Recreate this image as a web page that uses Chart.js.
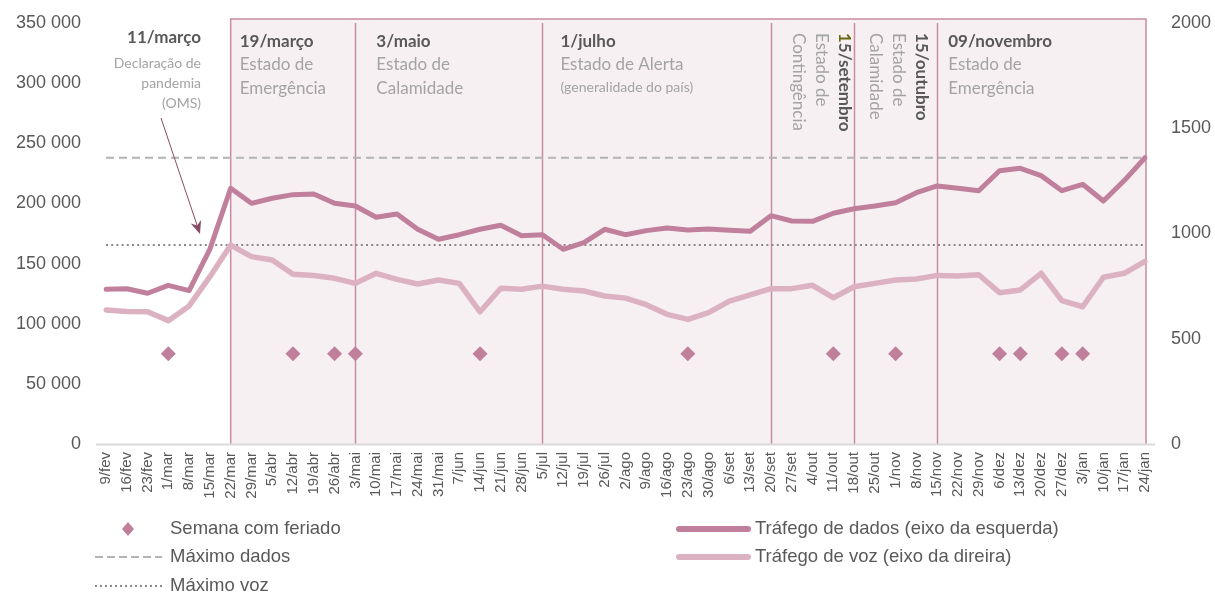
<!DOCTYPE html>
<html><head><meta charset="utf-8">
<script src="https://cdn.jsdelivr.net/npm/chart.js@4"></script>
<style>html,body{margin:0;padding:0;background:#fff}#wrap{width:1215px;height:594px}</style>
</head><body><div id="wrap"><canvas id="c" width="1215" height="594"></canvas></div>
<script>
const semanas = ['9/fev','16/fev','23/fev','1/mar','8/mar','15/mar','22/mar','29/mar','5/abr','12/abr','19/abr','26/abr','3/mai','10/mai','17/mai','24/mai','31/mai','7/jun','14/jun','21/jun','28/jun','5/jul','12/jul','19/jul','26/jul','2/ago','9/ago','16/ago','23/ago','30/ago','6/set','13/set','20/set','27/set','4/out','11/out','18/out','25/out','1/nov','8/nov','15/nov','22/nov','29/nov','6/dez','13/dez','20/dez','27/dez','3/jan','10/jan','17/jan','24/jan'];
const trafegoDados = [128600,129100,125300,131900,127500,162000,212600,200100,204300,207300,207800,200100,197900,188500,191200,178500,170200,174000,178500,181800,173200,174000,161900,167400,178500,174000,177400,179600,177900,178700,177700,176800,189800,185400,185100,191800,195600,197900,200600,208900,214500,212600,210600,227200,229200,223100,210600,215900,202000,219000,238000];
const trafegoVoz = [637,629,628,586,656,795,945,890,874,806,800,787,763,811,782,760,779,763,628,740,735,750,735,727,703,693,662,616,592,624,679,708,738,738,754,695,747,763,779,784,801,798,804,719,732,811,681,652,792,811,868];
const semanasFeriado = ['1/mar','12/abr','26/abr','3/mai','14/jun','23/ago','11/out','1/nov','6/dez','13/dez','27/dez','3/jan'];
const nivelFeriado = 75000;
const maximoDados = 238000;
const maximoVoz = 945;
const inicioFases = ['22/mar','3/mai','5/jul','20/set','18/out','15/nov'];
const fimFases = '24/jan';
const titulosFases = ['19/março','3/maio','1/julho','15/setembro','15/outubro','09/novembro'];
const textosFases = [['Estado de','Emergência'],['Estado de','Calamidade'],['Estado de Alerta'],['Estado de','Contingência'],['Estado de','Calamidade'],['Estado de','Emergência']];
const notaFase3 = '(generalidade do país)';
const tituloPandemia = '11/março';
const textoPandemia = ['Declaração de','pandemia','(OMS)'];
const legendaTextos = ['Semana com feriado','Máximo dados','Máximo voz','Tráfego de dados (eixo da esquerda)','Tráfego de voz (eixo da direira)'];

const corDados = '#c07f9b', corVoz = '#dcb2c3', corBorda = '#c98aa3', corFundo = '#f7f0f3';
const corTitulo = '#595959', corTexto = '#a3a3a3';

const fundo = {
  id: 'fundo',
  beforeDatasetsDraw(chart) {
    const {ctx, scales: {x, y, y1}} = chart;
    const top = 19, bottom = y.getPixelForValue(0);
    const x0 = x.getPixelForValue(semanas.indexOf(inicioFases[0]));
    const x1 = x.getPixelForValue(semanas.indexOf(fimFases)) + 1;
    ctx.save();
    ctx.fillStyle = corFundo;
    ctx.fillRect(x0, top, x1 - x0, bottom - top);
    ctx.strokeStyle = corBorda; ctx.lineWidth = 1.5;
    ctx.beginPath();
    ctx.moveTo(x0, bottom); ctx.lineTo(x0, top); ctx.lineTo(x1, top); ctx.lineTo(x1, bottom);
    ctx.stroke();
    for (let i = 1; i < inicioFases.length; i++) {
      const px = Math.round(x.getPixelForValue(semanas.indexOf(inicioFases[i]))) + 0.5;
      ctx.beginPath(); ctx.moveTo(px, top + 4); ctx.lineTo(px, bottom); ctx.stroke();
    }
    ctx.strokeStyle = '#d9d9d9'; ctx.lineWidth = 2;
    ctx.beginPath(); ctx.moveTo(x.left - 10, bottom + 0.5); ctx.lineTo(x.right + 10, bottom + 0.5); ctx.stroke();
    const yd = y.getPixelForValue(maximoDados);
    ctx.strokeStyle = '#b3b3b3'; ctx.lineWidth = 2; ctx.setLineDash([8, 5]);
    ctx.beginPath(); ctx.moveTo(x.left, yd); ctx.lineTo(x.right, yd); ctx.stroke();
    const yv = y1.getPixelForValue(maximoVoz);
    ctx.strokeStyle = '#8a8a8a'; ctx.setLineDash([2, 3.2]);
    ctx.beginPath(); ctx.moveTo(x.left, yv); ctx.lineTo(x.right, yv); ctx.stroke();
    ctx.restore();
  },
  afterDraw(chart) {
    const {ctx, scales: {x}} = chart;
    ctx.save();
    const px = i => x.getPixelForValue(semanas.indexOf(inicioFases[i]));
    const offs = [9, 21, 18, 0, 0, 11];
    ctx.textBaseline = 'middle';
    [0, 1, 2, 5].forEach(i => {
      const tx = px(i) + offs[i];
      ctx.textAlign = 'left';
      ctx.fillStyle = corTitulo; ctx.font = 'bold 17px Lato';
      ctx.fillText(titulosFases[i], tx, 42);
      ctx.fillStyle = corTexto; ctx.font = '17px Lato';
      textosFases[i].forEach((t, k) => ctx.fillText(t, tx, 65 + k * 24));
      if (i === 2) { ctx.font = '14px Lato'; ctx.fillText(notaFase3, tx, 87); }
    });
    [[3, 844], [4, 921]].forEach(([i, cx]) => {
      const lines = [titulosFases[i]].concat(textosFases[i]);
      lines.forEach((t, k) => {
        ctx.save();
        ctx.translate(cx - k * 23, 33);
        ctx.rotate(Math.PI / 2);
        ctx.textAlign = 'left';
        if (k === 0) {
          ctx.font = 'bold 17px Lato';
          if (i === 3) {
            ctx.fillStyle = '#6b6a14'; ctx.fillText(t[0], 0, 0);
            const w = ctx.measureText(t[0]).width;
            ctx.fillStyle = corTitulo; ctx.fillText(t.slice(1), w, 0);
          } else { ctx.fillStyle = corTitulo; ctx.fillText(t, 0, 0); }
        } else {
          ctx.font = '17px Lato'; ctx.fillStyle = corTexto; ctx.fillText(t, 0, 0);
        }
        ctx.restore();
      });
    });
    ctx.textAlign = 'right';
    ctx.fillStyle = corTitulo; ctx.font = 'bold 17px Lato';
    ctx.fillText(tituloPandemia, 201, 38);
    ctx.fillStyle = corTexto; ctx.font = '14px Lato';
    textoPandemia.forEach((t, k) => ctx.fillText(t, 201, 63 + k * 20));
    const ax0 = 161, ay0 = 118, ax1 = 200, ay1 = 234;
    const ang = Math.atan2(ay1 - ay0, ax1 - ax0);
    ctx.strokeStyle = '#8a4a66'; ctx.fillStyle = '#8a4a66'; ctx.lineWidth = 1;
    ctx.beginPath(); ctx.moveTo(ax0, ay0); ctx.lineTo(ax1 - 8 * Math.cos(ang), ay1 - 8 * Math.sin(ang)); ctx.stroke();
    ctx.beginPath();
    ctx.moveTo(ax1, ay1);
    ctx.lineTo(ax1 - 14 * Math.cos(ang - 0.4), ay1 - 14 * Math.sin(ang - 0.4));
    ctx.lineTo(ax1 - 9 * Math.cos(ang), ay1 - 9 * Math.sin(ang));
    ctx.lineTo(ax1 - 14 * Math.cos(ang + 0.4), ay1 - 14 * Math.sin(ang + 0.4));
    ctx.closePath(); ctx.fill();
    ctx.textAlign = 'left'; ctx.font = '18.5px "Liberation Sans", Arial';
    ctx.fillStyle = corDados;
    ctx.beginPath(); ctx.moveTo(128, 522); ctx.lineTo(134, 529); ctx.lineTo(128, 536); ctx.lineTo(122, 529); ctx.closePath(); ctx.fill();
    ctx.fillStyle = corTitulo;
    ctx.fillText(legendaTextos[0], 170, 529);
    ctx.strokeStyle = '#b3b3b3'; ctx.lineWidth = 2; ctx.setLineDash([8, 4]);
    ctx.beginPath(); ctx.moveTo(95, 557); ctx.lineTo(162, 557); ctx.stroke();
    ctx.fillText(legendaTextos[1], 170, 557);
    ctx.strokeStyle = '#8a8a8a'; ctx.setLineDash([2, 3]);
    ctx.beginPath(); ctx.moveTo(95, 586); ctx.lineTo(162, 586); ctx.stroke();
    ctx.fillText(legendaTextos[2], 170, 586);
    ctx.setLineDash([]); ctx.lineWidth = 6; ctx.lineCap = 'round';
    ctx.strokeStyle = corDados;
    ctx.beginPath(); ctx.moveTo(679, 529); ctx.lineTo(748, 529); ctx.stroke();
    ctx.strokeStyle = corVoz;
    ctx.beginPath(); ctx.moveTo(679, 557); ctx.lineTo(748, 557); ctx.stroke();
    ctx.fillText(legendaTextos[3], 755, 529);
    ctx.fillText(legendaTextos[4], 755, 557);
    ctx.restore();
  }
};

const fmt = v => String(v).replace(/\B(?=(\d{3})+(?!\d))/g, ' ');
const fitY = w => s => { s.width = w; s.paddingTop = 0; s.paddingBottom = 0; };

new Chart(document.getElementById('c'), {
  type: 'line',
  data: {
    labels: semanas,
    datasets: [
      {label: 'Semana com feriado', data: semanas.map(s => semanasFeriado.includes(s) ? nivelFeriado : null), yAxisID: 'y', showLine: false,
       pointStyle: 'rectRot', pointRadius: 7.5, pointBackgroundColor: corDados, pointBorderWidth: 0, order: 0},
      {label: 'Tráfego de dados', data: trafegoDados, yAxisID: 'y', borderColor: corDados, borderWidth: 5, pointRadius: 0,
       borderJoinStyle: 'round', borderCapStyle: 'round', order: 1},
      {label: 'Tráfego de voz', data: trafegoVoz, yAxisID: 'y1', borderColor: corVoz, borderWidth: 5.5, pointRadius: 0,
       borderJoinStyle: 'round', borderCapStyle: 'round', order: 2}
    ]
  },
  options: {
    responsive: false, animation: false, devicePixelRatio: 1,
    layout: {padding: {top: 23, left: 0, right: 0, bottom: 0}},
    plugins: {legend: {display: false}, tooltip: {enabled: false}},
    scales: {
      x: {offset: false, grid: {display: false, drawTicks: false}, border: {display: false},
          ticks: {autoSkip: false, minRotation: 90, maxRotation: 90, padding: 8, color: '#595959', font: {family: '"Liberation Sans", Arial', size: 15}},
          afterFit: s => { s.height = 150; s.paddingLeft = 0; s.paddingRight = 0; }},
      y: {position: 'left', min: 0, max: 350000, grid: {display: false, drawTicks: false}, border: {display: false},
          ticks: {stepSize: 50000, padding: 25, color: '#595959', font: {family: '"Liberation Sans", Arial', size: 18}, callback: v => fmt(v)},
          afterFit: fitY(106)},
      y1: {position: 'right', min: 0, max: 2000, grid: {display: false, drawTicks: false}, border: {display: false},
          ticks: {stepSize: 500, padding: 26, color: '#595959', font: {family: '"Liberation Sans", Arial', size: 18}, callback: v => String(v)},
          afterFit: fitY(70)}
    }
  },
  plugins: [fundo]
});
</script></body></html>
